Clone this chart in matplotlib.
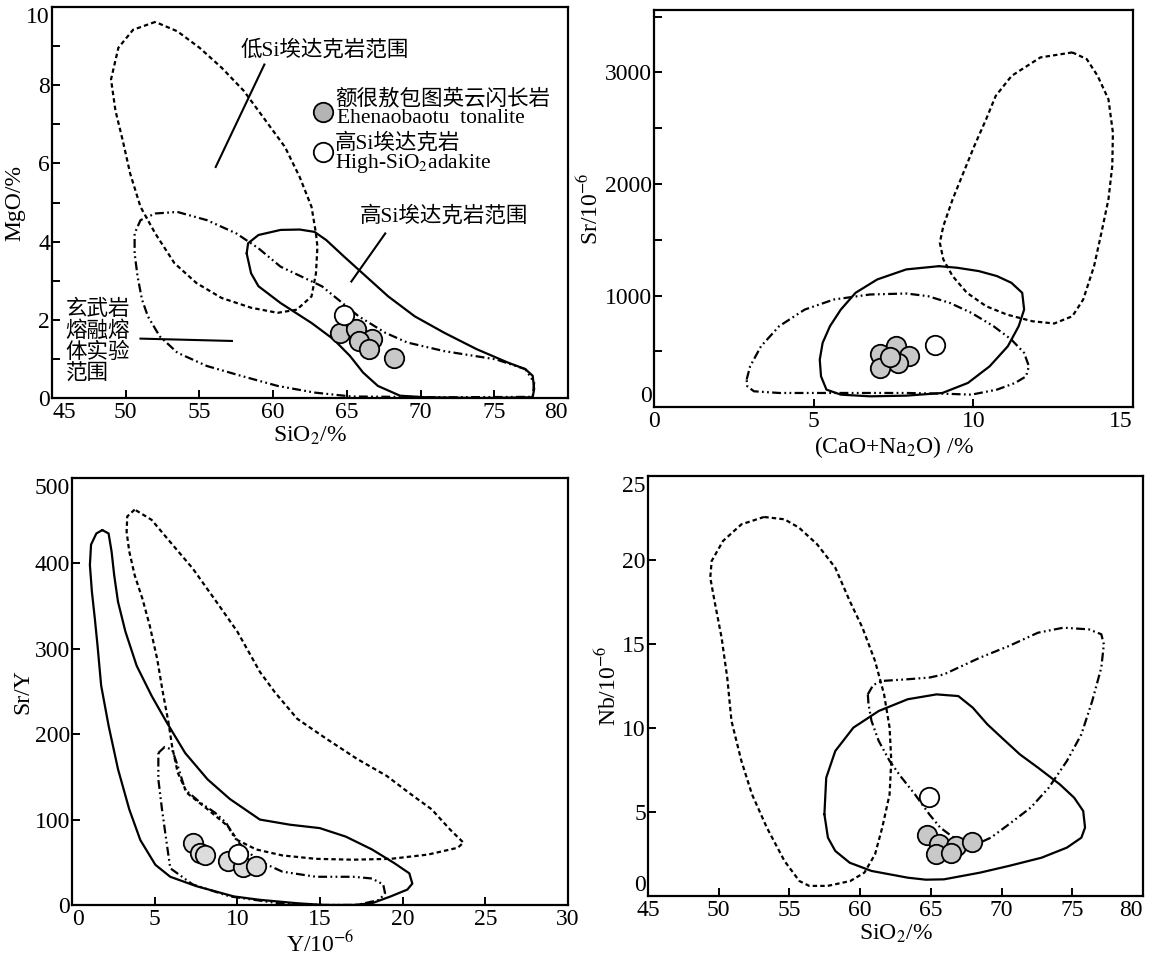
import matplotlib
matplotlib.use("Agg")
import matplotlib.pyplot as plt
import numpy as np

plt.rcParams["font.family"] = ["Liberation Serif", "Noto Sans CJK SC"]
plt.rcParams["mathtext.fontset"] = "stix"
plt.rcParams["axes.linewidth"] = 1.6

DASH = (0, (2.0, 1.4))
DASH_DOT2 = (0, (4.0, 1.5, 0.8, 1.5, 0.8, 1.5))
GREY = "#c8c8c8"
GREY_LIGHT = "#dcdcdc"
GREY_KEY = "#b4b4b4"

# ---- panel 1: MgO vs SiO2 ----
MGO_SIO2 = [64.5, 65.6, 66.7, 65.8, 66.5, 68.2]
MGO_VAL = [1.67, 1.76, 1.51, 1.46, 1.25, 1.03]
MGO_ADAKITE = (64.8, 2.12)
MGO_LOW_SI = [(52.0, 9.62), (50.5, 9.42), (49.5, 8.96), (49.0, 8.15), (49.3, 7.35),
              (49.8, 6.58), (50.3, 5.74), (51.0, 4.89), (52.0, 4.21), (53.3, 3.45),
              (54.8, 2.94), (56.5, 2.56), (58.5, 2.31), (60.3, 2.18), (61.6, 2.26),
              (62.6, 2.60), (62.9, 3.19), (63.0, 3.87), (62.9, 4.21), (62.6, 4.89),
              (61.8, 5.65), (60.8, 6.42), (59.5, 7.09), (58.0, 7.86), (56.5, 8.45),
              (55.0, 8.96), (53.5, 9.38)]
MGO_HIGH_SI = [(58.2, 3.70), (58.3, 3.96), (59.0, 4.17), (60.5, 4.30), (61.8, 4.31),
               (62.8, 4.25), (63.6, 4.04), (64.8, 3.62), (66.3, 3.11), (67.8, 2.60),
               (69.6, 2.09), (71.6, 1.67), (73.8, 1.25), (75.9, 0.91), (77.1, 0.74),
               (77.6, 0.57), (77.7, 0.23), (77.6, 0.02), (74.1, 0.0), (70.3, 0.02),
               (68.6, 0.06), (67.1, 0.31), (66.1, 0.65), (65.2, 1.08), (64.1, 1.50),
               (62.6, 1.92), (60.5, 2.43), (59.0, 2.86), (58.5, 3.19)]
MGO_BASALT = [(53.5, 4.76), (55.5, 4.55), (57.5, 4.21), (59.0, 3.83), (60.5, 3.36),
              (63.3, 2.86), (65.8, 2.09), (67.6, 1.67), (69.1, 1.42), (71.6, 1.20),
              (75.1, 0.99), (77.1, 0.74), (77.7, 0.40), (77.6, 0.03), (71.6, 0.02),
              (65.3, 0.04), (62.8, 0.14), (60.3, 0.31), (57.8, 0.57), (55.5, 0.82),
              (53.5, 1.16), (52.3, 1.58), (51.5, 2.09), (51.1, 2.52), (50.8, 3.11),
              (50.6, 3.70), (50.6, 4.21), (51.0, 4.55), (52.0, 4.72)]

# ---- panel 2: Sr vs CaO+Na2O ----
SR_CANA = [7.08, 7.59, 7.99, 7.65, 7.08, 7.39]
SR_VAL = [476, 545, 461, 395, 350, 446]
SR_ADAKITE = (8.81, 560)
SR_LOW_SI = [(13.1, 3180), (12.1, 3135), (11.2, 2970), (10.7, 2790), (10.4, 2581),
             (10.03, 2341), (9.69, 2102), (9.35, 1862), (9.06, 1623), (8.95, 1473),
             (9.06, 1323), (9.35, 1174), (9.80, 1024), (10.4, 904), (11.05, 829),
             (11.85, 769), (12.53, 749), (13.1, 814), (13.44, 964), (13.78, 1263),
             (14.01, 1563), (14.23, 1862), (14.35, 2162), (14.37, 2461), (14.23, 2760),
             (13.89, 2970), (13.55, 3120)]
SR_HIGH_SI = [(8.92, 1263), (7.90, 1234), (6.99, 1144), (6.31, 1024), (5.85, 874),
              (5.51, 725), (5.28, 575), (5.19, 425), (5.23, 275), (5.40, 156),
              (5.85, 111), (6.76, 96), (7.90, 102), (9.03, 126), (9.83, 216),
              (10.51, 365), (11.08, 545), (11.42, 725), (11.59, 874), (11.53, 1024),
              (11.19, 1114), (10.74, 1174), (10.17, 1219), (9.49, 1249)]
SR_BASALT = [(2.90, 246), (3.01, 365), (3.35, 545), (3.92, 725), (4.72, 874),
             (5.63, 964), (6.76, 1009), (7.90, 1018), (8.58, 994), (9.26, 934),
             (9.94, 844), (10.63, 725), (11.19, 605), (11.59, 485), (11.74, 365),
             (11.65, 275), (11.31, 216), (10.74, 156), (9.94, 111), (9.03, 120),
             (7.90, 126), (5.63, 126), (3.92, 126), (3.13, 141), (2.92, 186)]

# ---- panel 3: Sr/Y vs Y ----
SRY_Y = [7.30, 7.75, 8.02, 9.44, 10.35, 11.14]
SRY_VAL = [72, 61, 58, 51, 45, 46]
SRY_ADAKITE = (10.05, 60)
SRY_LOW_SI = [(3.79, 463), (3.34, 455), (3.30, 437), (3.46, 414), (3.79, 386),
              (4.25, 359), (4.70, 327), (5.15, 288), (5.49, 249), (5.83, 214),
              (6.05, 186), (6.39, 155), (6.96, 131), (8.20, 112), (9.44, 92),
              (10.0, 76), (11.14, 65), (12.72, 58), (14.75, 54), (17.0, 53),
              (19.27, 54), (21.53, 59), (23.33, 67), (23.67, 73), (22.88, 88),
              (21.75, 112), (20.4, 131), (19.04, 151), (17.24, 171), (15.43, 194),
              (13.62, 218), (12.27, 249), (11.36, 273), (10.0, 320), (8.88, 351),
              (7.30, 394), (5.94, 425), (4.81, 451)]
SRY_HIGH_SI = [(1.83, 439), (2.21, 435), (2.39, 414), (2.55, 386), (2.78, 355),
               (3.23, 320), (3.91, 280), (4.81, 245), (5.72, 214), (6.84, 178),
               (8.20, 147), (9.55, 124), (11.36, 100), (13.17, 94), (14.98, 90),
               (16.56, 80), (18.14, 65), (19.49, 49), (20.4, 37), (20.58, 25),
               (20.28, 18), (19.27, 10), (18.14, 2), (17.0, 0), (15.2, 0),
               (13.62, 2), (11.36, 6), (9.78, 10), (7.52, 22), (5.94, 33),
               (5.04, 47), (4.13, 76), (3.46, 112), (2.78, 159), (2.21, 210),
               (1.76, 257), (1.54, 304), (1.38, 335), (1.20, 367), (1.08, 398),
               (1.15, 422), (1.47, 435)]
SRY_BASALT = [(5.22, 178), (5.60, 185), (6.05, 182), (6.39, 163), (6.84, 135),
              (7.75, 120), (8.65, 108), (9.33, 96), (9.78, 80), (10.46, 65),
              (11.36, 51), (12.72, 39), (14.75, 33), (17.0, 33), (18.14, 31),
              (18.82, 24), (18.93, 14), (18.59, 6), (17.24, 0), (15.2, 0),
              (12.49, 2), (9.55, 10), (7.30, 24), (5.94, 43), (5.72, 73),
              (5.44, 112), (5.22, 147)]

# ---- panel 4: Nb vs SiO2 ----
NB_SIO2 = [64.7, 65.6, 66.8, 65.35, 66.4, 67.9]
NB_VAL = [3.61, 3.12, 2.98, 2.48, 2.58, 3.21]
NB_ADAKITE = (64.84, 5.89)
NB_LOW_SI = [(53.2, 22.56), (51.6, 22.12), (50.3, 21.13), (49.5, 19.94), (49.4, 18.95),
             (49.7, 17.56), (50.2, 15.38), (50.6, 13.0), (50.9, 10.42), (51.6, 8.04),
             (52.35, 6.05), (53.4, 4.07), (54.65, 2.08), (55.7, 0.89), (56.4, 0.60),
             (57.7, 0.60), (59.3, 0.89), (60.3, 1.39), (61.05, 2.48), (61.56, 4.07),
             (62.08, 6.05), (62.2, 8.04), (62.08, 10.02), (61.69, 12.0), (61.05, 13.99),
             (60.16, 15.97), (59.26, 17.56), (58.24, 19.54), (56.96, 20.93),
             (55.68, 21.92), (54.65, 22.42)]
NB_HIGH_SI = [(57.47, 4.86), (57.6, 7.04), (58.24, 8.63), (59.52, 10.02), (61.31, 11.01),
              (63.36, 11.71), (65.4, 12.0), (66.94, 11.9), (67.96, 11.21), (68.99, 10.22),
              (70.01, 9.42), (71.29, 8.43), (72.57, 7.64), (74.11, 6.65), (75.13, 5.85),
              (75.77, 5.06), (75.9, 4.07), (75.64, 3.47), (74.62, 2.88), (72.83, 2.28),
              (70.52, 1.79), (68.48, 1.39), (65.92, 0.99), (64.64, 0.97), (63.36, 1.09),
              (60.8, 1.49), (59.26, 1.98), (58.24, 2.68), (57.72, 3.47)]
NB_BASALT = [(60.54, 12.0), (60.92, 12.56), (61.56, 12.8), (63.36, 12.9), (64.89, 13.0),
             (65.92, 13.19), (66.94, 13.59), (68.48, 14.19), (70.52, 14.88),
             (72.57, 15.67), (74.37, 15.97), (76.16, 15.87), (77.05, 15.58),
             (77.23, 14.98), (77.05, 13.59), (76.41, 11.61), (75.64, 9.62),
             (74.62, 8.04), (73.34, 6.45), (72.06, 5.26), (70.52, 4.27), (69.24, 3.47),
             (68.22, 3.08), (66.94, 3.27), (65.66, 4.07), (64.89, 4.86), (63.87, 6.05),
             (62.84, 7.14), (62.08, 8.04), (61.31, 9.23), (60.8, 10.42), (60.59, 11.41)]


def draw_field(ax, pts, style):
    xs = [p[0] for p in pts] + [pts[0][0]]
    ys = [p[1] for p in pts] + [pts[0][1]]
    ax.plot(xs, ys, color="black", lw=1.6, linestyle=style, zorder=2,
            solid_capstyle="round")


def draw_samples(ax, xs, ys, adakite, fill):
    ax.plot(xs, ys, "o", ms=14, mfc=fill, mec="black", mew=1.3, ls="none", zorder=4)
    ax.plot([adakite[0]], [adakite[1]], "o", ms=14, mfc="white", mec="black",
            mew=1.3, zorder=5)


def style_axes(ax, xlim, ylim, xstep, ystep, xlabel, ylabel, yminor=None):
    ax.set_xlim(*xlim)
    ax.set_ylim(*ylim)
    ax.set_xticks(np.arange(xlim[0], xlim[1] + 0.01, xstep))
    ax.set_yticks(np.arange(ylim[0], ylim[1] + 0.01, ystep))
    if yminor:
        ax.set_yticks(np.arange(ylim[0], ylim[1] + 0.01, yminor), minor=True)
    ax.tick_params(which="both", direction="in", length=6, width=1.4, labelsize=17)
    ax.tick_params(axis="y", pad=1.5)
    ax.tick_params(axis="x", pad=3)
    ax.set_xlabel(xlabel, fontsize=17, labelpad=1)
    ax.set_ylabel(ylabel, fontsize=17, labelpad=1)


def nudge_end_labels(ax, first_left=False, last_right=True, top_down=True,
                     zero_up=False):
    xt = ax.xaxis.get_major_ticks()
    yt = ax.yaxis.get_major_ticks()
    if first_left:
        xt[0].label1.set_horizontalalignment("left")
    if last_right:
        xt[-1].label1.set_horizontalalignment("right")
    if top_down:
        yt[-1].label1.set_verticalalignment("top")
    if zero_up:
        yt[0].label1.set_verticalalignment("bottom")


fig = plt.figure(figsize=(11.49, 9.55), dpi=100)

# panel 1
ax1 = fig.add_axes([0.0453, 0.5832, 0.4491, 0.4094])
draw_field(ax1, MGO_LOW_SI, DASH)
draw_field(ax1, MGO_HIGH_SI, "-")
draw_field(ax1, MGO_BASALT, DASH_DOT2)
draw_samples(ax1, MGO_SIO2, MGO_VAL, MGO_ADAKITE, GREY)
ax1.plot([59.4, 56.1], [8.53, 5.91], color="black", lw=1.5)
ax1.text(57.8, 8.9, "低Si埃达克岩范围", fontsize=15.5, va="center")
ax1.plot([67.6, 65.3], [4.21, 2.98], color="black", lw=1.5)
ax1.text(65.9, 4.64, "高Si埃达克岩范围", fontsize=15.5, va="center")
ax1.plot([51.0, 57.2], [1.52, 1.46], color="black", lw=1.5)
for label, yy in zip(["玄武岩", "熔融熔", "体实验", "范围"], [2.26, 1.71, 1.16, 0.61]):
    ax1.text(45.9, yy, label, fontsize=15.5, va="center")
ax1.plot([63.4], [7.31], "o", ms=14, mfc=GREY_KEY, mec="black", mew=1.3)
ax1.text(64.2, 7.64, "额很敖包图英云闪长岩", fontsize=15.5, va="center")
ax1.text(64.3, 7.14, "Ehenaobaotu  tonalite", fontsize=15.5, va="center")
ax1.plot([63.4], [6.29], "o", ms=14, mfc="white", mec="black", mew=1.3)
ax1.text(64.2, 6.5, "高Si埃达克岩", fontsize=15.5, va="center")
ax1.text(64.2, 5.99, "High-SiO$_2$adakite", fontsize=15.5, va="center")
style_axes(ax1, (45, 80), (0, 10), 5, 2, "SiO$_2$/%", "MgO/%", yminor=1)

# panel 2
ax2 = fig.add_axes([0.5692, 0.5738, 0.4169, 0.4157])
draw_field(ax2, SR_LOW_SI, DASH)
draw_field(ax2, SR_HIGH_SI, "-")
draw_field(ax2, SR_BASALT, DASH_DOT2)
draw_samples(ax2, SR_CANA, SR_VAL, SR_ADAKITE, GREY)
style_axes(ax2, (0, 15), (0, 3560), 5, 1000, "(CaO+Na$_2$O) /%",
           "Sr/10$^{-6}$", yminor=500)

# panel 3
ax3 = fig.add_axes([0.0627, 0.0524, 0.4317, 0.4471])
draw_field(ax3, SRY_LOW_SI, DASH)
draw_field(ax3, SRY_HIGH_SI, "-")
draw_field(ax3, SRY_BASALT, DASH_DOT2)
draw_samples(ax3, SRY_Y, SRY_VAL, SRY_ADAKITE, GREY_LIGHT)
style_axes(ax3, (0, 30), (0, 500), 5, 100, "Y/10$^{-6}$", "Sr/Y")

# panel 4
ax4 = fig.add_axes([0.5640, 0.0618, 0.4308, 0.4398])
draw_field(ax4, NB_LOW_SI, DASH)
draw_field(ax4, NB_HIGH_SI, "-")
draw_field(ax4, NB_BASALT, DASH_DOT2)
draw_samples(ax4, NB_SIO2, NB_VAL, NB_ADAKITE, GREY)
style_axes(ax4, (45, 80), (0, 25), 5, 5, "SiO$_2$/%", "Nb/10$^{-6}$")

nudge_end_labels(ax1, first_left=True)
nudge_end_labels(ax2, top_down=False, zero_up=True)
nudge_end_labels(ax3, first_left=True, last_right=False)
nudge_end_labels(ax4, zero_up=True)

fig.savefig("out.png", dpi=100)
plt.close(fig)
